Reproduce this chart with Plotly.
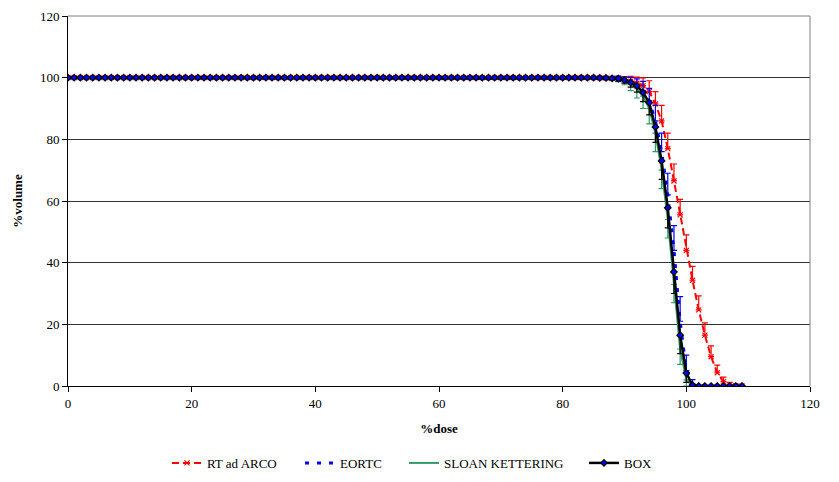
import plotly.graph_objects as go

# ---- data ----
dose = list(range(0, 110))

rt_ad_arco = [100.0] * 86 + [
    99.95, 99.9, 99.8, 99.6, 99.3, 98.9, 98.2, 97.4, 95.5, 91.5,
    86.0, 77.0, 66.5, 55.5, 44.0, 34.3, 24.7, 16.5, 9.5, 4.3,
    1.4, 0.4, 0.1, 0.0]
eortc = [100.0] * 86 + [
    99.95, 99.9, 99.8, 99.7, 99.3, 98.6, 97.6, 95.8, 92.5, 86.0,
    76.0, 62.0, 44.0, 21.0, 5.0, 0.6, 0.0, 0.0, 0.0, 0.0,
    0.0, 0.0, 0.0, 0.0]
sloan_kettering = [100.0] * 86 + [
    99.9, 99.8, 99.7, 99.5, 98.9, 97.8, 96.4, 94.0, 90.0, 82.0,
    70.0, 54.0, 33.0, 12.0, 2.0, 0.0, 0.0, 0.0, 0.0, 0.0,
    0.0, 0.0, 0.0, 0.0]
box = [100.0] * 86 + [
    99.95, 99.9, 99.8, 99.7, 99.2, 98.4, 97.3, 95.2, 91.9, 84.0,
    73.0, 57.8, 37.0, 16.5, 4.2, 0.3, 0.0, 0.0, 0.0, 0.0,
    0.0, 0.0, 0.0, 0.0]

# error bar magnitudes
rt_err = [0.3] * 86 + [
    0.3, 0.4, 0.5, 0.8, 1.0, 1.5, 2.0, 2.5, 3.5, 4.0,
    5.0, 5.0, 5.5, 5.0, 5.0, 4.5, 4.5, 4.0, 3.5, 2.5,
    1.5, 0.8, 0.3, 0.0]
eortc_err = [0.3] * 86 + [
    0.3, 0.4, 0.5, 0.8, 1.0, 1.5, 2.0, 3.0, 4.0, 5.0,
    6.0, 7.0, 8.0, 8.0, 5.0, 1.5, 0.3, 0.0, 0.0, 0.0,
    0.0, 0.0, 0.0, 0.0]
sloan_err = [0.3] * 86 + [
    0.3, 0.4, 0.6, 0.8, 1.2, 2.0, 3.0, 4.0, 5.0, 6.0,
    6.0, 6.0, 6.0, 5.0, 2.0, 0.3, 0.0, 0.0, 0.0, 0.0,
    0.0, 0.0, 0.0, 0.0]
box_err = [0.3] * 86 + [
    0.3, 0.4, 0.5, 0.8, 1.0, 1.5, 2.0, 3.0, 4.0, 5.0,
    6.0, 6.5, 7.0, 6.0, 3.0, 0.3, 0.0, 0.0, 0.0, 0.0,
    0.0, 0.0, 0.0, 0.0]

zeros = [0.0] * len(dose)

x_ticks = [0, 20, 40, 60, 80, 100, 120]
y_ticks = [0, 20, 40, 60, 80, 100, 120]

FONT = "Liberation Serif"

fig = go.Figure()

fig.add_trace(go.Scatter(
    x=dose, y=rt_ad_arco, name="RT ad ARCO", mode="lines+markers", legend="legend",
    line=dict(color="#FF0000", width=2, dash="7px,4px"),
    marker=dict(symbol="x-thin", size=5, color="#FF0000",
                line=dict(color="#FF0000", width=1.2)),
    error_y=dict(type="data", symmetric=False, array=rt_err, arrayminus=zeros,
                 color="#FF0000", thickness=1.2, width=3),
))
fig.add_trace(go.Scatter(
    x=dose, y=eortc, name="EORTC", mode="lines", legend="legend2",
    line=dict(color="#0000FF", width=3, dash="4px,8px"),
    error_y=dict(type="data", symmetric=False, array=eortc_err, arrayminus=zeros,
                 color="#0000FF", thickness=1.2, width=3),
))
fig.add_trace(go.Scatter(
    x=dose, y=sloan_kettering, name="SLOAN KETTERING", mode="lines", legend="legend3",
    line=dict(color="#339966", width=2),
    error_y=dict(type="data", symmetric=False, array=zeros, arrayminus=sloan_err,
                 color="#339966", thickness=1.2, width=3),
))
fig.add_trace(go.Scatter(
    x=dose, y=box, name="BOX", mode="lines+markers", legend="legend4",
    line=dict(color="#000000", width=2.5),
    marker=dict(symbol="diamond", size=5, color="#0000FF",
                line=dict(color="#000000", width=1.2)),
    error_y=dict(type="data", symmetric=False, array=zeros, arrayminus=box_err,
                 color="#000000", thickness=1.2, width=3),
))


def leg(xpos):
    return dict(orientation="h", x=xpos, xanchor="left", y=-0.208, yanchor="middle",
                font=dict(family=FONT, size=13), itemwidth=30,
                bgcolor="rgba(0,0,0,0)", borderwidth=0)


fig.update_layout(
    width=839, height=482,
    margin=dict(l=68, r=29, t=16, b=96, autoexpand=False),
    paper_bgcolor="white", plot_bgcolor="white",
    font=dict(family=FONT, size=13, color="#000000"),
    showlegend=True,
    legend=leg(0.1334),
    legend2=leg(0.3127),
    legend3=leg(0.4528),
    legend4=leg(0.6954),
    xaxis=dict(
        range=[0, 120], tickvals=x_ticks, ticks="outside", ticklen=5,
        tickcolor="#000000", showline=True, linecolor="#000000", linewidth=1,
        showgrid=False, zeroline=False, mirror=False, automargin=False,
        tickfont=dict(family=FONT, size=13),
        title=dict(text="<b>%dose</b>", font=dict(family=FONT, size=13), standoff=14),
    ),
    yaxis=dict(
        range=[0, 120], tickvals=y_ticks, ticks="outside", ticklen=5,
        tickcolor="#000000", showline=True, linecolor="#000000", linewidth=1,
        showgrid=True, gridcolor="#333333", gridwidth=1, zeroline=False, automargin=False,
        tickfont=dict(family=FONT, size=13),
        title=dict(text="<b>%volume</b>", font=dict(family=FONT, size=13), standoff=14),
    ),
    shapes=[
        dict(type="line", xref="paper", yref="paper", x0=1, x1=1, y0=0, y1=1,
             line=dict(color="#808080", width=1)),
        dict(type="line", xref="paper", yref="paper", x0=0, x1=1, y0=1, y1=1,
             line=dict(color="#808080", width=1)),
    ],
)

fig.write_html("out.html", config={"displayModeBar": False},
               post_script="document.body.style.margin='0';document.body.style.overflow='hidden';")
